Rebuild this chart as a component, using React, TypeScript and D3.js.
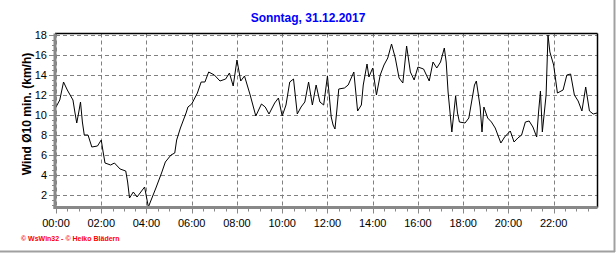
import React from "react";
import * as d3 from "d3";

const title = "Sonntag, 31.12.2017";
const yLabel = "Wind Ø10 min. (km/h)";
const credit = "© WsWin32 - © Heiko Blädern";

const times = [
  "00:00","00:10","00:20","00:30","00:45","00:50","00:55","01:00","01:05","01:10","01:15","01:25","01:35","01:50",
  "02:00","02:05","02:10","02:25","02:35","02:50","03:05","03:10","03:15","03:25","03:35","03:55",
  "04:05","04:25","04:40","04:50","05:05","05:15","05:20","05:30","05:45","05:50",
  "06:00","06:15","06:25","06:35","06:45","07:00","07:15","07:30","07:40","07:50",
  "08:00","08:10","08:20","08:35","08:50","09:05","09:15","09:25","09:40","09:50",
  "10:00","10:10","10:20","10:30","10:40","10:50","11:00","11:10","11:20","11:30","11:40","11:50",
  "12:00","12:10","12:15","12:20","12:25","12:30","12:45","12:55","13:10","13:20","13:30","13:35","13:45","13:50",
  "14:00","14:10","14:20","14:30","14:40","14:50","15:00","15:10","15:20","15:30","15:40","15:50",
  "16:00","16:15","16:30","16:40","16:50","17:00","17:10","17:15","17:20","17:30","17:40","17:45","17:50",
  "18:05","18:15","18:30","18:35","18:45","18:50","18:55","19:05","19:15","19:25","19:40","19:50",
  "20:05","20:15","20:25","20:35","20:45","20:55","21:05","21:15","21:20","21:25","21:30","21:40","21:45","21:50",
  "22:00","22:10","22:25","22:35","22:45","22:55","23:05","23:15","23:25","23:35","23:45","23:55"
];

const windValues = [
  10.8,11.5,13.3,12.5,11.5,10.3,9.2,10.2,11.3,9.3,8.0,8.0,6.8,6.9,
  7.5,6.3,5.2,5.0,5.2,4.6,4.4,3.3,1.7,2.3,1.8,2.8,
  0.8,2.7,4.2,5.3,6.0,6.2,7.5,8.7,10.2,10.8,
  11.1,12.2,13.3,13.3,14.3,14.0,13.4,13.6,14.2,12.9,
  15.5,13.4,13.9,12.0,9.9,11.1,10.8,10.1,11.2,11.7,
  9.9,11.0,13.3,13.6,10.1,10.8,11.3,13.3,11.0,13.0,11.3,11.0,
  13.9,9.8,9.0,8.6,10.5,12.6,12.7,13.0,14.3,10.4,11.0,13.0,15.1,13.8,
  14.7,12.0,14.0,15.0,15.7,17.1,15.7,13.7,13.2,16.9,14.3,13.5,
  14.8,14.6,13.4,15.3,14.7,15.3,16.7,15.3,12.3,8.3,11.9,10.2,9.3,
  9.2,9.7,13.0,13.4,10.8,8.3,10.8,9.7,9.3,8.7,7.2,7.8,
  8.4,7.3,7.7,8.0,9.3,9.4,8.8,7.8,10.3,12.4,8.3,12.0,18.0,16.3,
  15.0,12.2,12.5,14.0,14.1,12.0,11.4,10.4,12.8,10.4,10.1,10.2
];

const xTickLabels = ["00:00","02:00","04:00","06:00","08:00","10:00","12:00","14:00","16:00","18:00","20:00","22:00"];
const yTicks = [2, 4, 6, 8, 10, 12, 14, 16, 18];

const toMin = (s: string) => {
  const [h, m] = s.split(":").map(Number);
  return h * 60 + m;
};

export default function App() {
  const W = 616, H = 253;
  const x = d3.scaleLinear().domain([0, 1435]).range([56, 597]);
  const y = d3.scaleLinear().domain([0.8, 18.15]).range([207, 33.5]);
  const left = 56, right = 597.5, top = 33.5, bottom = 207.5;

  const data = times.map((t, i) => ({ t: toMin(t), v: windValues[i] }));
  const line = d3.line<{ t: number; v: number }>().x(d => x(d.t)).y(d => y(d.v));

  const minorX = d3.range(0, 1436, 30);
  const minorY = d3.range(1, 18.01, 0.5);
  const font = "Arial, 'Liberation Sans', sans-serif";
  const grid = "#808080";

  return (
    <svg width={W} height={H} style={{ position: "absolute", left: 0, top: 0, background: "#fff" }}>
      <rect x={0} y={0} width={W} height={H} fill="#fff" />
      {/* outer frame */}
      <line x1={614.5} y1={0} x2={614.5} y2={252} stroke="#a0a0a0" strokeWidth={2} />
      <line x1={0} y1={251.5} x2={615} y2={251.5} stroke="#a0a0a0" strokeWidth={2} />

      <text x={308} y={22} textAnchor="middle" fontFamily={font} fontWeight="bold" fontSize={12} fill="#0000ff">{title}</text>

      {/* grid */}
      {yTicks.map(v => (
        <line key={"gy" + v} x1={left} x2={right} y1={Math.round(y(v)) + 0.5} y2={Math.round(y(v)) + 0.5}
          stroke={grid} strokeDasharray="4,3" strokeWidth={1} />
      ))}
      {xTickLabels.map(l => (
        <line key={"gx" + l} x1={Math.round(x(toMin(l))) + 0.5} x2={Math.round(x(toMin(l))) + 0.5} y1={top} y2={bottom}
          stroke={grid} strokeDasharray="4,3" strokeWidth={1} />
      ))}

      {/* frame top/right */}
      <line x1={left - 1} x2={right} y1={top} y2={top} stroke="#000" strokeWidth={1.5} />
      <line x1={right} x2={right} y1={top} y2={bottom} stroke="#000" strokeWidth={1.5} />

      {/* data line */}
      <path d={line(data) || ""} fill="none" stroke="#000" strokeWidth={1} />

      {/* axes */}
      <line x1={55} x2={55} y1={top} y2={bottom + 1.5} stroke="#888" strokeWidth={3} />
      <line x1={53.5} x2={right} y1={bottom} y2={bottom} stroke="#888" strokeWidth={3} />

      {minorY.map(v => (
        <line key={"my" + v} x1={52} x2={54} y1={Math.round(y(v)) + 0.5} y2={Math.round(y(v)) + 0.5} stroke="#888" strokeWidth={1} />
      ))}
      {yTicks.map(v => (
        <g key={"ty" + v}>
          <line x1={49} x2={54} y1={Math.round(y(v)) + 0.5} y2={Math.round(y(v)) + 0.5} stroke="#888" strokeWidth={1} />
          <text x={47} y={y(v) + 4} textAnchor="end" fontFamily={font} fontSize={11} fill="#000">{v}</text>
        </g>
      ))}

      {minorX.map(m => (
        <line key={"mx" + m} x1={Math.round(x(m)) + 0.5} x2={Math.round(x(m)) + 0.5} y1={bottom + 1} y2={bottom + 4} stroke="#888" strokeWidth={1} />
      ))}
      {xTickLabels.map(l => (
        <g key={"tx" + l}>
          <line x1={Math.round(x(toMin(l))) + 0.5} x2={Math.round(x(toMin(l))) + 0.5} y1={bottom + 1} y2={bottom + 6} stroke="#888" strokeWidth={1} />
          <text x={x(toMin(l))} y={227} textAnchor="middle" fontFamily={font} fontSize={11} fill="#000">{l}</text>
        </g>
      ))}

      <text transform={`translate(31,114) rotate(-90)`} textAnchor="middle" fontFamily={font} fontWeight="bold" fontSize={12} fill="#000">{yLabel}</text>

      <text x={21} y={240.5} fontFamily={font} fontWeight="bold" fontSize={7} fill="#ff0000">{credit}</text>
    </svg>
  );
}
